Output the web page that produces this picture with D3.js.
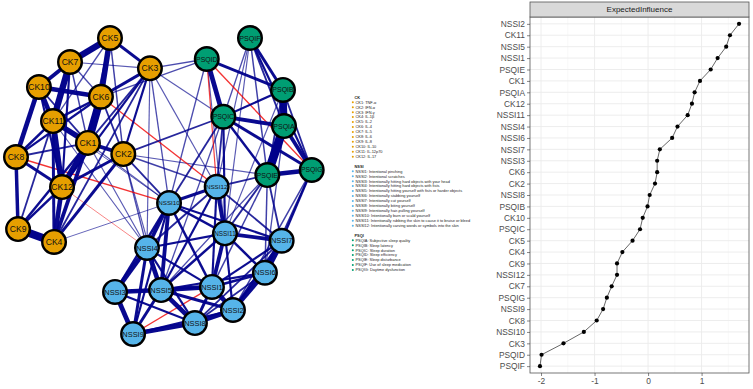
<!DOCTYPE html>
<html>
<head>
<meta charset="utf-8">
<script src="https://cdn.jsdelivr.net/npm/d3@7"></script>
<style>
  body { margin: 0; background: #fff; }
  svg { display: block; font-family: "Liberation Sans", Arial, sans-serif; }
</style>
</head>
<body>
<div id="chart"></div>
<script>
// ---- network nodes (qgraph-style layout coordinates, -1..1) ----
const nodeNames = ["CK1","CK2","CK3","CK4","CK5","CK6","CK7","CK8","CK9","CK10","CK11","CK12",
  "NSSI1","NSSI2","NSSI3","NSSI4","NSSI5","NSSI6","NSSI7","NSSI8","NSSI9","NSSI10","NSSI11","NSSI12",
  "PSQIA","PSQIB","PSQIC","PSQID","PSQIE","PSQIF","PSQIG"];
const nodeGroups = ["CK","CK","CK","CK","CK","CK","CK","CK","CK","CK","CK","CK",
  "NSSI","NSSI","NSSI","NSSI","NSSI","NSSI","NSSI","NSSI","NSSI","NSSI","NSSI","NSSI",
  "PSQI","PSQI","PSQI","PSQI","PSQI","PSQI","PSQI"];
const layoutX = [-0.514,-0.275,-0.095,-0.743,-0.365,-0.426,-0.635,-1.000,-0.986,-0.845,-0.750,-0.689,
  0.324,0.466,-0.331,-0.115,-0.020,0.682,0.795,0.209,-0.209,0.034,0.412,0.356,
  0.811,0.804,0.401,0.289,0.698,0.581,0.998];
const layoutY = [0.291,0.216,0.795,-0.378,1.000,0.603,0.838,0.196,-0.291,0.669,0.439,-0.007,
  -0.682,-0.838,-0.716,-0.419,-0.703,-0.586,-0.370,-0.926,-1.000,-0.115,-0.320,-0.005,
  0.405,0.649,0.468,0.858,0.074,1.000,0.108];

// ---- network edges (partial correlations, read by eye from line width) ----
const edgeFrom = [
  "CK5","CK5","CK5","CK5","CK5","CK5","CK7","CK7","CK7","CK7","CK7","CK7",
  "CK10","CK10","CK10","CK10","CK10","CK6","CK6","CK6","CK6","CK6",
  "CK11","CK11","CK11","CK11","CK11","CK1","CK1","CK1","CK1","CK1",
  "CK2","CK2","CK2","CK3","CK3","CK3","CK8","CK8","CK12","CK12","CK9",
  "CK3","CK6","CK2","CK2","CK2","CK6","CK8","CK12","CK2","CK1","CK3","CK3","CK2","CK11",
  "CK3","CK3","CK1","CK11","CK2","CK4","PSQID","PSQIF",
  "PSQIF","PSQIF","PSQIF","PSQIF","PSQIF","PSQIF",
  "PSQID","PSQID","PSQID","PSQID","PSQID",
  "PSQIB","PSQIB","PSQIB","PSQIB","PSQIA","PSQIA","PSQIA","PSQIC","PSQIC","PSQIE",
  "PSQIC","PSQIC","PSQIC","PSQIC","PSQIE","PSQIE","PSQIE","PSQIE","PSQIE","PSQIE",
  "PSQIG","PSQIG","PSQIG","PSQIA","PSQIB",
  "NSSI10","NSSI10","NSSI10","NSSI10","NSSI10","NSSI10","NSSI10","NSSI10",
  "NSSI12","NSSI12","NSSI12","NSSI12","NSSI12",
  "NSSI11","NSSI11","NSSI11","NSSI11","NSSI11","NSSI11",
  "NSSI7","NSSI7","NSSI7","NSSI7","NSSI6","NSSI6","NSSI6","NSSI6",
  "NSSI1","NSSI1","NSSI1","NSSI1","NSSI2","NSSI2",
  "NSSI5","NSSI5","NSSI5","NSSI5","NSSI3","NSSI3","NSSI3",
  "NSSI9","NSSI9","NSSI9","NSSI9","NSSI4","NSSI4"];
const edgeTo = [
  "CK7","CK6","CK3","CK1","CK2","CK11","CK10","CK11","CK6","CK3","CK12","CK1",
  "CK11","CK8","CK6","CK1","CK12","CK1","CK11","CK3","CK8","CK2",
  "CK1","CK12","CK8","CK4","CK9","CK2","CK12","CK4","CK9","CK8",
  "CK12","CK4","CK3","CK12","CK1","CK4","CK12","CK9","CK4","CK9","CK4",
  "PSQID","PSQID","PSQIC","NSSI12","NSSI10","NSSI12","NSSI10","NSSI4","NSSI4","NSSI4","NSSI10","NSSI4","PSQIE","NSSI4",
  "NSSI12","PSQIC","NSSI10","NSSI10","NSSI5","NSSI10","NSSI11","NSSI12",
  "PSQIB","PSQIA","PSQIG","PSQIE","PSQIC","NSSI11",
  "PSQIB","PSQIC","PSQIG","NSSI12","NSSI10",
  "PSQIA","PSQIC","PSQIG","PSQIE","PSQIE","PSQIC","PSQIG","PSQIE","PSQIG","PSQIG",
  "NSSI12","NSSI11","NSSI10","NSSI5","NSSI12","NSSI11","NSSI7","NSSI6","NSSI1","NSSI5",
  "NSSI7","NSSI6","NSSI2","NSSI6","NSSI11",
  "NSSI12","NSSI11","NSSI4","NSSI5","NSSI3","NSSI9","NSSI1","NSSI7",
  "NSSI11","NSSI7","NSSI1","NSSI5","NSSI4",
  "NSSI7","NSSI6","NSSI1","NSSI5","NSSI2","NSSI4",
  "NSSI6","NSSI2","NSSI1","NSSI8","NSSI2","NSSI1","NSSI8","NSSI5",
  "NSSI2","NSSI5","NSSI8","NSSI3","NSSI8","NSSI5",
  "NSSI8","NSSI3","NSSI4","NSSI9","NSSI4","NSSI9","NSSI8",
  "NSSI8","NSSI4","NSSI1","NSSI2","NSSI1","NSSI8"];
const edgeWeight = [
  0.35,0.30,0.15,0.08,0.06,0.05,0.20,0.35,0.05,0.04,0.10,0.06,
  0.25,0.25,0.25,0.08,0.10,0.45,0.12,0.15,0.10,0.08,
  0.30,0.30,0.12,0.15,0.08,0.20,0.30,0.20,0.12,0.08,
  0.15,0.15,0.10,0.10,0.08,0.08,0.15,0.18,0.25,0.12,0.45,
  0.05,0.05,0.08,0.06,0.08,-0.07,-0.07,-0.03,0.05,0.04,0.05,0.04,0.04,0.04,
  0.04,0.04,0.04,0.03,0.04,0.03,0.04,0.04,
  0.15,0.08,0.10,0.06,0.05,0.04,
  0.15,0.25,-0.07,-0.06,0.05,
  0.40,0.10,0.08,0.08,0.50,0.20,0.20,0.12,0.15,0.25,
  0.08,0.10,0.08,0.05,0.08,0.08,0.08,0.06,0.06,0.05,
  0.10,0.08,0.06,0.05,0.04,
  0.15,0.12,0.20,0.20,0.12,0.10,0.12,0.10,
  0.20,0.08,0.10,0.10,0.08,
  0.20,0.12,0.20,0.12,0.10,0.10,
  0.35,0.15,0.10,0.08,0.25,0.12,0.08,0.10,
  0.25,0.25,0.15,0.08,0.25,0.15,
  0.25,0.25,0.25,0.15,0.25,0.25,0.10,
  0.25,0.15,-0.07,0.10,0.10,0.10];

// ---- legend text ----
const legendGroups = ["CK", "NSSI", "PSQI"];
const legendCK = ["CK1: TNF-α","CK2: IFN-α","CK3: IFN-γ","CK4: IL-1β","CK5: IL-2","CK6: IL-4",
  "CK7: IL-5","CK8: IL-6","CK9: IL-8","CK10: IL-10","CK11: IL-12p70","CK12: IL-17"];
const legendNSSI = ["NSSI1: Intentional pinching","NSSI2: Intentional scratches",
  "NSSI3: Intentionally hitting hard objects with your head","NSSI4: Intentionally hitting hard objects with fists",
  "NSSI5: Intentionally hitting yourself with fists or harder objects","NSSI6: Intentionally stabbing yourself",
  "NSSI7: Intentionally cut yourself","NSSI8: Intentionally biting yourself",
  "NSSI9: Intentionally hair-pulling yourself","NSSI10: Intentionally burn or scald yourself",
  "NSSI11: Intentionally rubbing the skin to cause it to bruise or bleed",
  "NSSI12: Intentionally carving words or symbols into the skin"];
const legendPSQI = ["PSQIA: Subjective sleep quality","PSQIB: Sleep latency","PSQIC: Sleep duration",
  "PSQID: Sleep efficiency","PSQIE: Sleep disturbance","PSQIF: Use of sleep medication","PSQIG: Daytime dysfunction"];

// ---- expected influence (z-scores), top to bottom ----
const eiNodes = ["NSSI2","CK11","NSSI5","NSSI1","PSQIE","CK1","PSQIA","CK12","NSSI11","NSSI4","NSSI6",
  "NSSI7","NSSI3","CK6","CK2","NSSI8","PSQIB","CK10","PSQIC","CK5","CK4","CK9","NSSI12","CK7",
  "PSQIG","NSSI9","CK8","NSSI10","CK3","PSQID","PSQIF"];
const eiValues = [1.70,1.53,1.46,1.30,1.17,0.97,0.87,0.82,0.74,0.55,0.45,
  0.22,0.17,0.17,0.13,0.03,-0.01,-0.10,-0.15,-0.29,-0.48,-0.58,-0.58,-0.68,
  -0.77,-0.84,-0.96,-1.20,-1.58,-1.99,-2.02];
const eiTicks = [-2, -1, 0, 1];

const W = 753, H = 389;
const COLOR = { CK: "#E69F00", NSSI: "#56B4E9", PSQI: "#009E73" };

const svg = d3.select("#chart").append("svg")
  .attr("width", W).attr("height", H)
  .attr("viewBox", `0 0 ${W} ${H}`);

// ===== 1. network =====
const nx = d3.scaleLinear().domain([-1, 1]).range([16, 312]);
const ny = d3.scaleLinear().domain([-1, 1]).range([334, 38]);
const nodes = nodeNames.map((n, i) => ({ name: n, group: nodeGroups[i], x: nx(layoutX[i]), y: ny(layoutY[i]) }));
const byName = new Map(nodes.map(d => [d.name, d]));

const edges = edgeFrom.map((f, i) => ({ s: byName.get(f), t: byName.get(edgeTo[i]), w: edgeWeight[i] }))
  .sort((a, b) => Math.abs(a.w) - Math.abs(b.w));   // strong edges on top
const maxW = d3.max(edges, d => Math.abs(d.w));
const widthScale = d3.scaleLinear().domain([0, maxW]).range([0.5, 8.8]);
const alphaScale = d3.scaleLinear().domain([0, 0.1, maxW]).range([0.45, 0.95, 1]).clamp(true);

const net = svg.append("g").attr("class", "network");
net.append("g").selectAll("line")
  .data(edges)
  .join("line")
    .attr("x1", d => d.s.x).attr("y1", d => d.s.y)
    .attr("x2", d => d.t.x).attr("y2", d => d.t.y)
    .attr("stroke", d => d.w > 0 ? "#00008B" : "#F00000")
    .attr("stroke-opacity", d => alphaScale(Math.abs(d.w)))
    .attr("stroke-width", d => d.w > 0 ? widthScale(d.w) : widthScale(-d.w) * 0.8)
    .attr("stroke-linecap", "butt");

const nodeG = net.append("g").selectAll("g")
  .data(nodes)
  .join("g")
    .attr("transform", d => `translate(${d.x},${d.y})`);
nodeG.append("circle")
  .attr("r", 11.8)
  .attr("fill", d => COLOR[d.group])
  .attr("stroke", "#000").attr("stroke-width", 2.4);
nodeG.append("text")
  .attr("text-anchor", "middle").attr("dy", "0.36em")
  .attr("fill", "#111")
  .attr("font-size", 10)
  .text(d => d.name)
  .each(function () {
    // shrink each label to fit inside its node, like qgraph does
    const len = this.getComputedTextLength();
    d3.select(this).attr("font-size", Math.min(8.6, 10 * 21.5 / len));
  });

// ===== 2. legend =====
const legendItems = { CK: legendCK, NSSI: legendNSSI, PSQI: legendPSQI };
const leg = svg.append("g").attr("class", "legend").attr("font-size", 3.9).attr("fill", "#222");
let ly = 97.3;
legendGroups.forEach(gName => {
  leg.append("text").attr("x", 354.5).attr("y", ly).attr("dy", "0.35em")
    .attr("font-weight", "bold").text(gName);
  legendItems[gName].forEach(t => {
    ly += 4.95;
    leg.append("circle").attr("cx", 352.8).attr("cy", ly).attr("r", 1).attr("fill", COLOR[gName]);
    leg.append("text").attr("x", 355.5).attr("y", ly).attr("dy", "0.35em").text(t);
  });
  ly += 9.6;
});

// ===== 3. expected influence panel =====
const panel = { left: 530, right: 749, top: 17, bottom: 373, stripTop: 2 };
const ext = d3.extent(eiValues);
const pad = (ext[1] - ext[0]) * 0.05;   // ggplot's default 5% expansion
const ex = d3.scaleLinear().domain([ext[0] - pad, ext[1] + pad]).range([panel.left, panel.right]);
const ey = d3.scalePoint().domain(eiNodes).range([panel.top, panel.bottom]).padding(0.6);

const ei = svg.append("g").attr("class", "ei");
ei.append("rect")
  .attr("x", panel.left).attr("y", panel.top)
  .attr("width", panel.right - panel.left).attr("height", panel.bottom - panel.top)
  .attr("fill", "#fff");

// grid: minor then major
const minor = eiTicks.map(t => t + 0.5).filter(t => t < ex.domain()[1]);
minor.push(eiTicks[0] - 0.5);
ei.append("g").selectAll("line").data(minor.filter(t => t > ex.domain()[0])).join("line")
  .attr("x1", d => ex(d)).attr("x2", d => ex(d))
  .attr("y1", panel.top).attr("y2", panel.bottom)
  .attr("stroke", "#F2F2F2").attr("stroke-width", 0.5);
ei.append("g").selectAll("line").data(eiTicks).join("line")
  .attr("x1", d => ex(d)).attr("x2", d => ex(d))
  .attr("y1", panel.top).attr("y2", panel.bottom)
  .attr("stroke", "#EBEBEB").attr("stroke-width", 0.9);
ei.append("g").selectAll("line").data(eiNodes).join("line")
  .attr("x1", panel.left).attr("x2", panel.right)
  .attr("y1", d => ey(d)).attr("y2", d => ey(d))
  .attr("stroke", "#EBEBEB").attr("stroke-width", 0.9);

// line + points
const eiData = eiNodes.map((n, i) => ({ n, v: eiValues[i] }));
ei.append("path").datum(eiData)
  .attr("fill", "none").attr("stroke", "#000").attr("stroke-width", 0.6)
  .attr("d", d3.line().x(d => ex(d.v)).y(d => ey(d.n)));
ei.append("g").selectAll("circle").data(eiData).join("circle")
  .attr("cx", d => ex(d.v)).attr("cy", d => ey(d.n)).attr("r", 2.1).attr("fill", "#000");

// panel border
ei.append("rect")
  .attr("x", panel.left).attr("y", panel.top)
  .attr("width", panel.right - panel.left).attr("height", panel.bottom - panel.top)
  .attr("fill", "none").attr("stroke", "#555").attr("stroke-width", 0.8);

// strip
ei.append("rect")
  .attr("x", panel.left).attr("y", panel.stripTop)
  .attr("width", panel.right - panel.left).attr("height", panel.top - panel.stripTop)
  .attr("fill", "#D9D9D9").attr("stroke", "#555").attr("stroke-width", 0.8);
ei.append("text")
  .attr("x", (panel.left + panel.right) / 2).attr("y", (panel.stripTop + panel.top) / 2)
  .attr("dy", "0.35em").attr("text-anchor", "middle")
  .attr("font-size", 8).attr("fill", "#1A1A1A")
  .text("ExpectedInfluence");

// axes
const xAxis = ei.append("g")
  .attr("transform", `translate(0,${panel.bottom})`)
  .call(d3.axisBottom(ex).tickValues(eiTicks).tickFormat(d3.format("d")).tickSize(3).tickPadding(2));
const yAxis = ei.append("g")
  .attr("transform", `translate(${panel.left},0)`)
  .call(d3.axisLeft(ey).tickSize(3).tickPadding(2));
[xAxis, yAxis].forEach(a => {
  a.select(".domain").remove();
  a.selectAll(".tick line").attr("stroke", "#333").attr("stroke-width", 0.6);
  a.selectAll(".tick text").attr("fill", "#4D4D4D").attr("font-size", 8.4)
    .attr("font-family", "Liberation Sans, Arial, sans-serif");
});
xAxis.selectAll(".tick text").text(d => d < 0 ? "-" + Math.abs(d) : d);
</script>
</body>
</html>
